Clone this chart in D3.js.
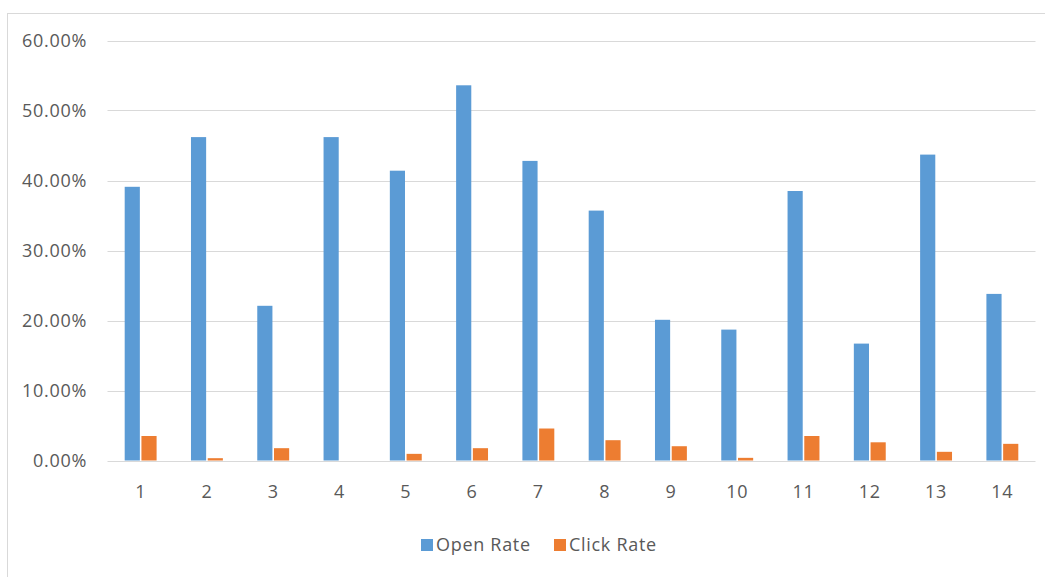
<!DOCTYPE html>
<html><head><meta charset="utf-8">
<script src="https://cdn.jsdelivr.net/npm/d3@7"></script>
<style>html,body{margin:0;padding:0;background:#fff;}svg{display:block;}</style>
</head><body>
<svg id="c" width="1045" height="577"></svg>
<script>
const categories = ["1","2","3","4","5","6","7","8","9","10","11","12","13","14"];
const openRate  = [39.1, 46.2, 22.1, 46.2, 41.4, 53.6, 42.8, 35.7, 20.1, 18.7, 38.5, 16.7, 43.7, 23.8];
const clickRate = [3.5, 0.33, 1.76, 0, 0.95, 1.76, 4.57, 2.9, 2.04, 0.38, 3.5, 2.6, 1.24, 2.38];
const yTicks = [0, 10, 20, 30, 40, 50, 60];
const seriesNames = ["Open Rate", "Click Rate"];
const colors = ["#5B9BD5", "#ED7D31"];

(function(){
const svg = d3.select("#c");
const font = "'Open Sans', sans-serif";
const fs = "18px", ls = "0.7px";
// frame
svg.append("line").attr("x1",7.5).attr("x2",7.5).attr("y1",13).attr("y2",577).attr("stroke","#d9d9d9");
svg.append("line").attr("x1",7).attr("x2",1045).attr("y1",13.5).attr("y2",13.5).attr("stroke","#d9d9d9");

const pLeft = 107.5, pRight = 1035.5, pTop = 40.5, pBottom = 460.5;
const x = d3.scaleBand().domain(categories).range([pLeft, pRight]);
const y = d3.scaleLinear().domain([0, 60]).range([pBottom, pTop]);

const g = svg.append("g");
g.selectAll("line.grid").data(yTicks).join("line")
  .attr("x1", pLeft).attr("x2", pRight)
  .attr("y1", d => Math.round(y(d)) + 0.5).attr("y2", d => Math.round(y(d)) + 0.5)
  .attr("stroke", "#d9d9d9").attr("stroke-width", 1.2);

g.selectAll("text.ylab").data(yTicks).join("text")
  .attr("x", 87).attr("y", d => y(d)).attr("dy", "0.36em")
  .attr("text-anchor", "end").attr("fill", "#595959")
  .style("font-family", font).style("font-size", fs).style("letter-spacing", ls)
  .text(d => d3.format(".2f")(d) + "%");

const step = x.bandwidth();
const bw = step * 0.218;
const inner = d3.scaleBand().domain([0,1]).range([-bw - 1.5, bw + 1.5]).paddingInner(3/(2*bw+3));

const series = [openRate, clickRate];
series.forEach((vals, si) => {
  g.selectAll("rect.s" + si).data(vals).join("rect")
    .attr("class", "s" + si)
    .attr("x", (d, i) => x(categories[i]) + step/2 + inner(si))
    .attr("width", inner.bandwidth())
    .attr("y", d => y(d))
    .attr("height", d => pBottom - y(d))
    .attr("fill", colors[si]);
});

g.selectAll("text.xlab").data(categories).join("text")
  .attr("x", d => x(d) + step/2).attr("y", 492).attr("dy", "0.36em")
  .attr("text-anchor", "middle").attr("fill", "#595959")
  .style("font-family", font).style("font-size", fs).style("letter-spacing", ls)
  .text(d => d);

// legend
const legX = [421, 554];
seriesNames.forEach((n, i) => {
  svg.append("rect").attr("x", legX[i]).attr("y", 539).attr("width", 12).attr("height", 12).attr("fill", colors[i]);
  svg.append("text").attr("x", legX[i] + 15).attr("y", 545).attr("dy", "0.36em")
    .attr("fill", "#595959").style("font-family", font).style("font-size", fs).style("letter-spacing", ls).text(n);
});
})();
</script>
</body></html>
